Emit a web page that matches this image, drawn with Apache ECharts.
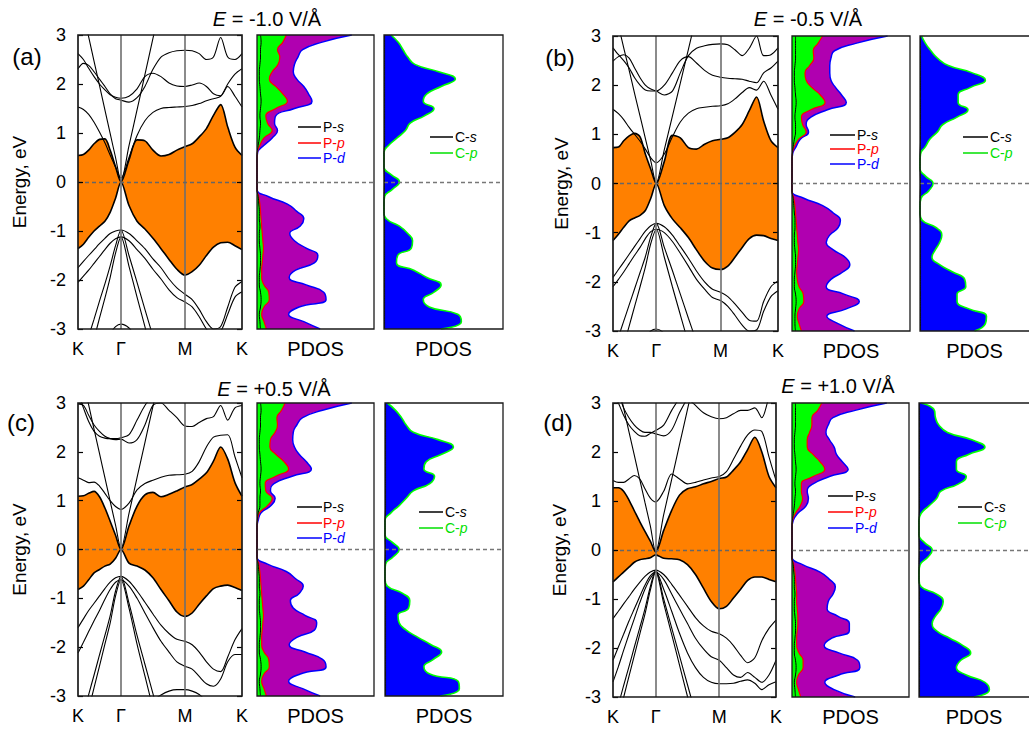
<!DOCTYPE html>
<html><head><meta charset="utf-8">
<script src="https://cdn.jsdelivr.net/npm/echarts@6/dist/echarts.min.js"></script>
<style>html,body{margin:0;padding:0;background:#fff}#c{width:1029px;height:734px}</style>
</head><body><div id="c"></div>
<script>
const FONT = '"Liberation Sans", Arial, Helvetica, sans-serif';
const _ = null;

// k-path: K - Γ - M - K (fraction of path)
const kPath = [0,0.033,0.065,0.098,0.131,0.164,0.196,0.229,0.262,0.311,0.36,0.408,0.457,0.506,0.555,0.603,0.652,0.696,0.739,0.783,0.826,0.87,0.913,0.957,1];
const kTicks = [0, 0.262, 0.652, 1];
const kLabels = ['K', 'Γ', 'M', 'K'];
const eTicks = [-3, 3, 1]; // min, max, step
// energy grid for PDOS (eV)
const eGrid = [-3,-2.85,-2.7,-2.55,-2.4,-2.25,-2.1,-1.95,-1.8,-1.65,-1.5,-1.35,-1.2,-1.05,-0.9,-0.75,-0.6,-0.45,-0.3,-0.15,0,0.15,0.3,0.45,0.6,0.75,0.9,1.05,1.2,1.35,1.5,1.65,1.8,1.95,2.1,2.25,2.4,2.55,2.7,2.85,3];

// ---------- (a) E = -1.0 V/Å ----------
const aCB = [0.54,0.56,0.65,0.78,0.87,0.88,0.65,0.31,0, 0.45,0.86,0.84,0.65,0.53,0.56,0.65,0.72, 0.78,0.92,1.09,1.36,1.58,1.12,0.71,0.54];
const aVB = [-1.36,-1.27,-1.13,-1.0,-0.9,-0.8,-0.62,-0.33,0, -0.48,-0.8,-0.96,-1.15,-1.36,-1.58,-1.78,-1.9, -1.83,-1.7,-1.5,-1.33,-1.24,-1.23,-1.3,-1.38];
const aCone = [3.93,3.43,2.96,2.46,1.97,1.47,0.99,0.5,0.02, 0.74,1.47,2.19,2.93,3.66,4.4,_,_, _,_,_,_,_,_,_,_];
const aU1 = [1.53,1.48,1.38,1.22,1.02,0.8,0.55,0.3,0.08, 0.5,0.95,1.25,1.42,1.5,1.52,1.53,1.54, 1.56,1.6,1.66,1.7,1.75,2.0,2.2,2.31];
const aU2 = [2.31,2.42,2.38,2.25,2.1,1.95,1.8,1.7,1.67, 1.63,1.72,1.95,2.3,2.55,2.64,2.68,2.69, 2.68,2.62,2.5,2.55,2.95,2.55,2.5,2.62];
const aU3 = [2.62,2.5,2.32,2.15,2.0,1.88,1.78,1.73,1.71, 1.75,1.9,2.15,2.22,2.15,2.02,1.96,1.95, 1.98,2.02,1.95,1.8,1.76,1.95,1.75,1.53];
const aV2 = [-1.75,-1.62,-1.5,-1.38,-1.26,-1.15,-1.05,-1.0,-0.98, -1.05,-1.2,-1.36,-1.57,-1.75,-1.98,-2.16,-2.29, -2.4,-2.6,-2.85,-3.0,-2.95,-2.55,-2.15,-2.03];
const aV3 = [-2.05,-1.92,-1.8,-1.66,-1.52,-1.38,-1.25,-1.16,-1.12, -1.2,-1.38,-1.56,-1.78,-1.98,-2.2,-2.36,-2.45, -2.55,-2.75,-3.0,-3.15,-3.05,-2.7,-2.35,-2.24];
const aS1 = [-3.86,-3.5,-3.15,-2.8,-2.43,-2.08,-1.71,-1.3,-0.98, -1.5,-2.05,-2.6,-3.15,-3.7,_,_,_, _,_,_,_,_,_,_,_];
const aS2 = [-4.4,-4.0,-3.6,-3.2,-2.78,-2.37,-1.95,-1.45,-1.12, -1.72,-2.35,-2.95,-3.6,_,_,_,_, _,_,_,_,_,_,_,_];
const aV4 = [_,_,_,_,_,_,-3.1,-2.95,-2.9, -2.98,-3.2,_,_,_,_,_,_, _,_,_,_,_,_,_,_];
const aPs = [0.3,0.25,0.2,0.3,0.35,0.3,0.2,0.2,0.25,0.3,0.3,0.25,0.2,0.2,0.25,0.2,0.2,0.15,0.1, 0,0,0,0,0, 0.02,0.1,0.2,0.25,0.3,0.25,0.3,0.35,0.3,0.25,0.2,0.2,0.25,0.3,0.3,0.35,0.3];
const aPp = [0.8,0.6,0.4,0.6,1.05,1.0,0.6,0.4,0.4,0.45,0.5,0.55,0.5,0.45,0.4,0.35,0.3,0.25,0.15, 0,0,0,0,0, 0.03,0.25,0.6,1.3,0.9,0.75,1.6,2.6,2.2,1.6,1.05,1.3,1.8,1.95,1.75,2.2,2.5];
const aPd = [5.4,4.0,2.7,3.6,5.9,5.7,4.2,2.75,3.3,4.9,5.2,4.2,3.2,2.8,3.7,4.0,3.4,2.6,1.0, 0,0,0,0,0, 0.05,0.6,1.3,1.75,1.5,1.6,3.2,4.7,4.4,4.0,3.4,3.1,3.2,3.5,3.9,5.5,8.1];
const aCs = [0.05,0.05,0.05,0.05,0.05,0.05,0.05,0.05,0.05,0.05,0.05,0.05,0.05,0.05,0.05,0.03,0,0,0,0.02,0.03,0.02,0,0,0,0.03,0.05,0.05,0.05,0.05,0.05,0.05,0.05,0.05,0.05,0.05,0.05,0.05,0.05,0.05,0.05];
const aCp = [4.8,6.5,6.2,3.8,3.3,4.2,4.8,3.6,2.5,1.05,1.15,2.3,2.4,2.0,1.3,0.2,0,0,0.05,0.7,1.3,0.6,0,0,0,0.4,1.1,1.8,2.2,3.4,4.2,3.3,3.6,4.8,6.0,4.6,2.6,2.0,1.6,1.2,0.6];

// ---------- (b) E = -0.5 V/Å ----------
const bCB = [0.73,0.74,0.87,0.97,1.02,0.95,0.6,0.29,0, 0.45,0.98,0.93,0.73,0.7,0.8,0.87,0.9, 0.93,1.04,1.2,1.48,1.76,1.27,0.87,0.73];
const bVB = [-1.16,-1.03,-0.89,-0.76,-0.7,-0.65,-0.55,-0.3,0, -0.45,-0.72,-0.9,-1.1,-1.35,-1.58,-1.72,-1.75, -1.68,-1.5,-1.3,-1.12,-1.05,-1.06,-1.12,-1.16];
const bCone = [3.67,3.21,2.76,2.3,1.83,1.37,0.92,0.46,0.01, 0.69,1.37,2.04,2.73,3.42,4.1,_,_, _,_,_,_,_,_,_,_];
const bU1 = [1.51,1.42,1.3,1.14,1.0,0.86,0.7,0.52,0.42, 0.6,0.95,1.25,1.43,1.52,1.55,1.57,1.58, 1.62,1.72,1.85,1.95,1.9,2.08,1.8,1.51];
const bU2 = [2.49,2.58,2.62,2.55,2.35,2.15,2.0,1.92,1.88, 1.8,1.88,2.25,2.6,2.75,2.8,2.83,2.84, 2.82,2.72,2.6,2.75,3.0,2.6,2.62,2.76];
const bU3 = [2.76,2.62,2.5,2.35,2.15,2.0,1.9,1.88,1.88, 2.0,2.25,2.5,2.58,2.45,2.3,2.2,2.16, 2.14,2.13,2.12,2.08,2.05,2.25,2.35,2.49];
const bV2 = [-1.91,-1.75,-1.6,-1.44,-1.28,-1.12,-0.97,-0.86,-0.81, -0.88,-1.05,-1.28,-1.52,-1.78,-2.0,-2.15,-2.21, -2.3,-2.45,-2.62,-2.78,-2.8,-2.4,-2.1,-1.98];
const bV3 = [-2.1,-1.95,-1.8,-1.63,-1.46,-1.3,-1.12,-0.98,-0.93, -1.0,-1.18,-1.42,-1.68,-1.95,-2.15,-2.32,-2.38, -2.5,-2.68,-2.88,-3.0,-2.98,-2.6,-2.3,-2.18];
const bS1 = [-3.45,-3.12,-2.8,-2.47,-2.14,-1.81,-1.49,-1.08,-0.81, -1.3,-1.77,-2.25,-2.74,-3.22,_,_,_, _,_,_,_,_,_,_,_];
const bS2 = [-4.1,-3.7,-3.3,-2.9,-2.5,-2.1,-1.7,-1.22,-0.93, -1.5,-2.1,-2.67,-3.25,_,_,_,_, _,_,_,_,_,_,_,_];
const bV4 = [_,_,_,_,_,_,-3.15,-3.0,-2.96, -3.05,-3.3,_,_,_,_,_,_, _,_,_,_,_,_,_,_];
const bPs = [0.3,0.25,0.25,0.3,0.35,0.3,0.2,0.2,0.25,0.3,0.3,0.25,0.2,0.2,0.25,0.25,0.2,0.15,0.1, 0,0,0,0,0, 0.03,0.1,0.2,0.3,0.3,0.25,0.3,0.35,0.3,0.25,0.2,0.2,0.25,0.3,0.3,0.3,0.3];
const bPp = [0.8,0.6,0.45,0.6,1.0,0.95,0.6,0.45,0.4,0.45,0.5,0.55,0.5,0.45,0.4,0.35,0.3,0.25,0.15, 0,0,0,0,0, 0.03,0.2,0.55,1.2,0.9,0.8,1.6,2.8,2.4,1.7,1.2,1.1,1.5,1.85,1.8,2.2,2.6];
const bPd = [5.3,3.9,2.95,4.6,5.7,4.4,2.9,3.3,4.3,4.9,4.5,3.5,2.9,3.2,3.9,4.1,3.5,2.6,1.0, 0,0,0,0,0, 0.05,0.35,0.7,1.4,1.2,1.6,3.0,4.6,4.2,3.7,3.3,3.2,3.2,3.3,3.6,5.4,8.1];
const bCs = [0.05,0.05,0.05,0.05,0.05,0.05,0.05,0.05,0.05,0.05,0.05,0.05,0.05,0.05,0.05,0.03,0,0,0,0.02,0.03,0.02,0,0,0,0.03,0.05,0.05,0.05,0.05,0.05,0.05,0.05,0.05,0.05,0.05,0.05,0.05,0.05,0.05,0.05];
const bCp = [5.0,6.0,6.1,4.5,3.4,3.4,4.2,4.1,3.0,1.8,1.1,1.4,1.8,2.0,1.5,0.2,0,0,0.1,0.8,1.2,0.5,0,0,0.05,0.5,0.9,1.6,2.1,3.4,4.4,3.5,3.5,4.6,6.0,4.8,2.6,1.6,1.0,0.5,0.15];

// ---------- (c) E = +0.5 V/Å ----------
const cCB = [1.09,1.1,1.15,1.19,1.08,0.85,0.58,0.29,0, 0.48,0.89,1.12,1.17,1.08,1.13,1.2,1.28, 1.33,1.44,1.57,1.81,2.1,1.85,1.37,1.09];
const cVB = [-0.82,-0.75,-0.62,-0.48,-0.41,-0.34,-0.3,-0.18,0, -0.28,-0.34,-0.42,-0.58,-0.82,-1.05,-1.28,-1.37, -1.3,-1.12,-0.95,-0.8,-0.75,-0.73,-0.78,-0.84];
const cCone = [3.93,3.44,2.96,2.46,1.97,1.47,0.99,0.5,0.02, 0.74,1.47,2.19,2.93,3.66,4.4,_,_, _,_,_,_,_,_,_,_];
const cU1 = [1.47,1.42,1.37,1.38,1.3,1.15,1.0,0.88,0.82, 0.95,1.22,1.35,1.42,1.48,1.52,1.53,1.54, 1.6,1.8,2.1,2.3,2.34,2.35,1.9,1.47];
const cU2 = [2.98,2.95,2.75,2.55,2.42,2.32,2.27,2.25,2.26, 2.18,2.25,2.55,2.95,3.0,2.85,2.7,2.53, 2.52,2.6,2.68,2.72,2.95,2.65,2.9,2.95];
const cU3 = [3.2,2.9,2.62,2.42,2.32,2.28,2.27,2.27,2.29, 2.35,2.65,2.95,3.15,_,_,_,_, _,_,_,_,_,_,_,_];
const cV2 = [-1.6,-1.42,-1.25,-1.1,-0.95,-0.8,-0.67,-0.58,-0.55, -0.65,-0.85,-1.08,-1.32,-1.55,-1.72,-1.84,-1.88, -1.95,-2.1,-2.3,-2.45,-2.5,-2.2,-1.85,-1.62];
const cV3 = [-2.12,-1.9,-1.68,-1.46,-1.25,-1.02,-0.82,-0.67,-0.62, -0.75,-1.0,-1.3,-1.6,-1.88,-2.1,-2.3,-2.39, -2.45,-2.6,-2.75,-2.8,-2.65,-2.3,-2.15,-2.15];
const cS1 = [-3.77,-3.37,-2.97,-2.57,-2.16,-1.76,-1.36,-0.85,-0.55, -1.1,-1.76,-2.35,-2.95,-3.55,_,_,_, _,_,_,_,_,_,_,_];
const cS2 = [-4.16,-3.71,-3.28,-2.83,-2.39,-1.94,-1.51,-0.95,-0.62, -1.2,-1.94,-2.59,-3.25,_,_,_,_, _,_,_,_,_,_,_,_];
const cV6 = [_,_,_,_,_,_,_,_,_, _,_,-3.3,-3.1,-2.98,-2.9,-2.87,-2.87, -2.9,-2.97,-3.1,-3.2,_,_,_,_];
const cPs = [0.3,0.25,0.2,0.3,0.35,0.3,0.2,0.2,0.25,0.3,0.3,0.25,0.2,0.2,0.25,0.2,0.2,0.15,0.1, 0,0,0,0,0, 0.03,0.1,0.25,0.25,0.3,0.25,0.3,0.35,0.3,0.25,0.2,0.2,0.25,0.3,0.3,0.35,0.3];
const cPp = [0.8,0.6,0.4,0.6,1.05,1.0,0.6,0.4,0.4,0.45,0.5,0.55,0.5,0.45,0.4,0.35,0.3,0.25,0.15, 0,0,0,0,0, 0.05,0.2,0.9,1.3,0.75,0.7,1.6,2.7,2.3,1.6,1.1,1.15,1.55,1.75,1.7,2.1,2.4];
const cPd = [5.4,3.9,2.7,3.7,5.9,5.6,4.1,2.75,3.4,4.9,5.1,4.1,3.1,2.85,3.6,3.95,3.3,2.5,0.9, 0,0,0,0,0, 0.1,0.35,1.2,1.55,1.15,1.45,3.0,4.65,4.2,3.6,3.2,3.05,3.1,3.4,3.9,5.6,8.1];
const cCs = [0.05,0.05,0.05,0.05,0.05,0.05,0.05,0.05,0.05,0.05,0.05,0.05,0.05,0.05,0.05,0.03,0,0,0,0.02,0.03,0.02,0,0,0,0.03,0.05,0.05,0.05,0.05,0.05,0.05,0.05,0.05,0.05,0.05,0.05,0.05,0.05,0.05,0.05];
const cCp = [4.7,6.3,6.2,3.8,3.3,4.1,4.8,3.9,2.8,1.8,1.2,1.1,2.0,2.1,1.5,0.2,0,0,0.05,0.7,1.2,0.6,0,0,0,0.5,1.2,1.8,2.4,3.8,4.2,3.3,3.5,4.8,5.8,4.5,2.4,1.8,1.4,0.9,0.2];

// ---------- (d) E = +1.0 V/Å ----------
const dCB = [1.27,1.27,1.2,1.02,0.8,0.58,0.38,0.18,-0.04, 0.4,0.81,1.12,1.25,1.29,1.35,1.4,1.46, 1.49,1.63,1.8,2.05,2.3,2.0,1.5,1.27];
const dVB = [-0.65,-0.55,-0.45,-0.35,-0.25,-0.2,-0.18,-0.16,-0.1, -0.17,-0.18,-0.2,-0.3,-0.5,-0.78,-1.05,-1.2, -1.15,-0.98,-0.8,-0.62,-0.55,-0.55,-0.6,-0.65];
const dCone = [3.85,3.37,2.9,2.41,1.93,1.44,0.97,0.49,-0.04, 0.72,1.44,2.15,2.87,3.59,4.3,_,_, _,_,_,_,_,_,_,_];
const dU1 = [1.42,1.38,1.38,1.45,1.52,1.45,1.25,1.06,0.98, 1.2,1.55,1.45,1.35,1.38,1.43,1.47,1.5, 1.6,1.85,2.12,2.35,2.45,2.42,1.9,1.42];
const dU2 = [3.2,3.0,2.75,2.55,2.42,2.33,2.32,2.38,2.44, 2.55,2.85,3.1,_,_,_,_,_, _,_,_,_,_,_,_,_];
const dU3 = [3.5,3.2,2.9,2.7,2.55,2.45,2.4,2.4,2.37, 2.33,2.45,2.8,3.1,_,_,_,_, _,_,_,_,_,_,_,_];
const dU4 = [_,_,_,_,_,_,_,_,_, _,_,3.3,3.1,2.95,2.8,2.72,2.68, 2.7,2.78,2.85,2.85,2.9,2.7,3.1,3.3];
const dV2 = [-1.4,-1.25,-1.1,-0.95,-0.8,-0.66,-0.54,-0.45,-0.41, -0.5,-0.7,-0.92,-1.15,-1.38,-1.55,-1.66,-1.71, -1.8,-1.95,-2.15,-2.3,-2.2,-1.85,-1.6,-1.43];
const dV3 = [-2.25,-1.98,-1.72,-1.45,-1.2,-0.95,-0.72,-0.53,-0.45, -0.6,-0.9,-1.2,-1.5,-1.8,-2.02,-2.18,-2.25, -2.4,-2.55,-2.6,-2.5,-2.6,-2.7,-2.55,-2.25];
const dV5 = [-2.69,-2.38,-2.05,-1.72,-1.4,-1.08,-0.8,-0.58,-0.45, -0.8,-1.25,-1.7,-2.1,-2.4,-2.6,-2.7,-2.73, -2.73,-2.72,-2.68,-2.65,-2.72,-2.85,-2.75,-2.69];
const dS1 = [-3.55,-3.16,-2.77,-2.38,-1.98,-1.59,-1.2,-0.75,-0.41, -1.0,-1.59,-2.16,-2.75,-3.34,_,_,_, _,_,_,_,_,_,_,_];
const dS2 = [-3.86,-3.43,-3.01,-2.58,-2.15,-1.72,-1.31,-0.82,-0.45, -1.09,-1.72,-2.35,-2.99,-3.62,_,_,_, _,_,_,_,_,_,_,_];
const dPs = [0.3,0.25,0.2,0.3,0.35,0.3,0.2,0.2,0.25,0.3,0.3,0.25,0.2,0.2,0.25,0.2,0.2,0.15,0.1, 0,0,0,0,0, 0.03,0.12,0.2,0.25,0.3,0.25,0.3,0.35,0.3,0.25,0.2,0.2,0.25,0.3,0.3,0.3,0.3];
const dPp = [0.75,0.55,0.4,0.55,0.95,0.95,0.6,0.4,0.4,0.45,0.5,0.5,0.45,0.4,0.4,0.35,0.3,0.25,0.15, 0,0,0,0,0, 0.05,0.3,0.7,0.9,0.8,0.8,1.8,2.8,2.4,1.8,1.3,1.3,1.5,1.7,1.7,2.2,2.55];
const dPd = [5.4,3.6,2.8,4.0,5.8,5.6,4.0,2.75,3.4,4.9,4.9,3.9,3.0,3.1,3.5,3.7,3.2,2.4,0.9, 0,0,0,0,0, 0.1,0.5,1.2,1.4,1.3,1.8,3.2,4.8,4.3,3.8,3.6,3.2,2.9,3.1,3.5,5.4,8.1];
const dCs = [0.05,0.05,0.05,0.05,0.05,0.05,0.05,0.05,0.05,0.05,0.05,0.05,0.05,0.05,0.05,0.03,0,0,0,0.02,0.03,0.02,0,0,0,0.03,0.05,0.05,0.05,0.05,0.05,0.05,0.05,0.05,0.05,0.05,0.05,0.05,0.05,0.05,0.05];
const dCp = [5.0,6.4,6.0,4.3,3.4,3.8,4.7,4.0,2.8,1.6,1.2,1.5,2.0,2.2,1.6,0.2,0,0,0.1,0.8,1.2,0.5,0,0,0,0.2,0.9,1.6,2.0,3.6,4.3,3.4,3.4,4.5,6.0,4.8,2.6,1.8,1.5,1.4,0.2];

const fieldLabels = ['-1.0', '-0.5', '+0.5', '+1.0'];
const panelTags = ['(a)', '(b)', '(c)', '(d)'];
const legendP = [['P-', 's', '#000000'], ['P-', 'p', '#FF0000'], ['P-', 'd', '#0000FF']];
const legendC = [['C-', 's', '#000000'], ['C-', 'p', '#00E000']];

const panels = [
  {cb:aCB, vb:aVB, bands:[aCone,aU1,aU2,aU3,aV2,aV3,aS1,aS2,aV4], ps:aPs, pp:aPp, pd:aPd, cs:aCs, cp:aCp},
  {cb:bCB, vb:bVB, bands:[bCone,bU1,bU2,bU3,bV2,bV3,bS1,bS2,bV4], ps:bPs, pp:bPp, pd:bPd, cs:bCs, cp:bCp},
  {cb:cCB, vb:cVB, bands:[cCone,cU1,cU2,cU3,cV2,cV3,cS1,cS2,cV6], ps:cPs, pp:cPp, pd:cPd, cs:cCs, cp:cCp},
  {cb:dCB, vb:dVB, bands:[dCone,dU1,dU2,dU3,dU4,dV2,dV3,dV5,dS1,dS2], ps:dPs, pp:dPp, pd:dPd, cs:dCs, cp:dCp}
];

// layout (pixels)
const layouts = [
  {band:[78,35,164,294], p:[257,35,117,294], c:[384,35,119,294], title:[267,19], tag:[27,56], nameGap:49,
   pLeg:{x1:298,x2:321,tx:323,ys:[127,143,158]}, cLeg:{x1:430,x2:453,tx:455,ys:[137,153]}},
  {band:[613,36,165,295], p:[792,36,118,295], c:[920,36,118,295], title:[808,19], tag:[560,57], nameGap:42,
   pLeg:{x1:830,x2:855,tx:857,ys:[135,149,164]}, cLeg:{x1:963,x2:988,tx:990,ys:[137,153]}},
  {band:[78,403,164,293], p:[257,403,117,293], c:[385,403,118,293], title:[274,389], tag:[21,422], nameGap:49,
   pLeg:{x1:297,x2:322,tx:323,ys:[507,523,538]}, cLeg:{x1:419,x2:443,tx:445,ys:[512,528]}},
  {band:[613,403,163,294], p:[792,403,117,294], c:[919,403,118,294], title:[838,386], tag:[558,422], nameGap:44,
   pLeg:{x1:828,x2:853,tx:855,ys:[496,512,528]}, cLeg:{x1:958,x2:982,tx:984,ys:[507,523]}}
];

const grid = [], xAxis = [], yAxis = [], series = [], elements = [];
const zeroIdx = eGrid.indexOf(0);
const eCats = eGrid.map(String);
const pts = arr => kPath.map((k, j) => [k, arr[j]]);
const hpts = arr => arr.map((v, j) => [v, j]);
const base = {type:'line', symbol:'none', showSymbol:false, silent:true, animation:false, emphasis:{disabled:true}};
const nearestTick = v => { let b = 0; kTicks.forEach((t, i) => { if (Math.abs(t - v) < Math.abs(kTicks[b] - v)) b = i; }); return b; };
const hiddenAxis = {axisLine:{show:false}, axisTick:{show:false}, axisLabel:{show:false}, splitLine:{show:false}};
const PSM = 0.5; // PDOS smoothing

panels.forEach((P, i) => {
  const L = layouts[i];
  const g = grid.length, xi = xAxis.length, yi = yAxis.length;
  [L.band, L.p, L.c].forEach(r => grid.push({left:r[0], top:r[1], width:r[2], height:r[3], show:false}));

  xAxis.push({gridIndex:g, type:'value', min:0, max:1, z:6, axisLine:{show:false}, axisTick:{show:false}, splitLine:{show:false},
    axisLabel:{customValues:kTicks, formatter:v => kLabels[nearestTick(v)], fontSize:18, color:'#000', margin:11, fontFamily:FONT}});
  xAxis.push(Object.assign({gridIndex:g+1, type:'value', min:0, max:10, name:'PDOS', nameLocation:'middle', nameGap:10,
    nameTextStyle:{fontSize:20, color:'#000', fontFamily:FONT}}, hiddenAxis));
  xAxis.push(Object.assign({gridIndex:g+2, type:'value', min:0, max:10, name:'PDOS', nameLocation:'middle', nameGap:10,
    nameTextStyle:{fontSize:20, color:'#000', fontFamily:FONT}}, hiddenAxis));

  yAxis.push({gridIndex:g, type:'value', min:eTicks[0], max:eTicks[1], interval:eTicks[2], position:'left', z:6,
    axisLine:{show:false}, splitLine:{show:false},
    axisTick:{show:true, inside:true, length:5, lineStyle:{color:'#000', width:1.2}},
    axisLabel:{fontSize:18, color:'#000', margin:12, fontFamily:FONT},
    name:'Energy, eV', nameLocation:'middle', nameGap:L.nameGap, nameTextStyle:{fontSize:19, color:'#000', fontFamily:FONT}});
  yAxis.push({gridIndex:g, type:'value', min:eTicks[0], max:eTicks[1], interval:eTicks[2], position:'right', z:6,
    axisLine:{show:false}, splitLine:{show:false}, axisLabel:{show:false},
    axisTick:{show:true, inside:true, length:5, lineStyle:{color:'#000', width:1.2}}});
  yAxis.push(Object.assign({gridIndex:g+1, type:'category', data:eCats, boundaryGap:false}, hiddenAxis));
  yAxis.push(Object.assign({gridIndex:g+2, type:'category', data:eCats, boundaryGap:false}, hiddenAxis));

  const bx = xi, by = yi;
  // orange region between the two bands bounding the gap (fill under CB, blank under VB)
  series.push(Object.assign({}, base, {xAxisIndex:bx, yAxisIndex:by, data:pts(P.cb), smooth:0.3, z:1,
    lineStyle:{color:'#000', width:1.6}, areaStyle:{color:'#FF8000', opacity:1, origin:'start'}}));
  series.push(Object.assign({}, base, {xAxisIndex:bx, yAxisIndex:by, data:pts(P.vb), smooth:0.3, z:2,
    lineStyle:{color:'#000', width:1.6}, areaStyle:{color:'#FFFFFF', opacity:1, origin:'start'}}));
  P.bands.forEach(b => series.push(Object.assign({}, base, {xAxisIndex:bx, yAxisIndex:by, data:pts(b), smooth:0.3, z:3,
    lineStyle:{color:'#000', width:1.1}})));
  series.push(Object.assign({}, base, {xAxisIndex:bx, yAxisIndex:by, data:[], z:4,
    markLine:{silent:true, symbol:['none','none'], label:{show:false}, animation:false, emphasis:{disabled:true},
      data:[{xAxis:kTicks[1], lineStyle:{color:'#6e6e6e', width:1.6, type:'solid'}},
            {xAxis:kTicks[2], lineStyle:{color:'#6e6e6e', width:1.6, type:'solid'}},
            {yAxis:0, lineStyle:{color:'#666', width:1.4, type:[4,3]}}]}}));

  // P PDOS
  series.push(Object.assign({}, base, {name:'P-d', xAxisIndex:xi+1, yAxisIndex:yi+2, data:hpts(P.pd), smooth:PSM, z:2,
    lineStyle:{color:'#0000FF', width:1.5}, areaStyle:{color:'#B000B0', opacity:1}}));
  series.push(Object.assign({}, base, {name:'P-p', xAxisIndex:xi+1, yAxisIndex:yi+2, data:hpts(P.pp), smooth:PSM, z:3,
    lineStyle:{color:'#FF0000', width:1.2}, areaStyle:{color:'#00FF00', opacity:1}}));
  series.push(Object.assign({}, base, {name:'P-s', xAxisIndex:xi+1, yAxisIndex:yi+2, data:hpts(P.ps), smooth:PSM, z:4,
    lineStyle:{color:'#000', width:1}}));
  series.push(Object.assign({}, base, {xAxisIndex:xi+1, yAxisIndex:yi+2, data:[], z:5,
    markLine:{silent:true, symbol:['none','none'], label:{show:false}, animation:false,
      data:[{yAxis:zeroIdx, lineStyle:{color:'#777', width:1.3, type:[4,3]}}]}}));
  // C PDOS
  series.push(Object.assign({}, base, {name:'C-p', xAxisIndex:xi+2, yAxisIndex:yi+3, data:hpts(P.cp), smooth:PSM, z:2,
    lineStyle:{color:'#00FF00', width:1.6}, areaStyle:{color:'#0000FF', opacity:1}}));
  series.push(Object.assign({}, base, {name:'C-s', xAxisIndex:xi+2, yAxisIndex:yi+3, data:hpts(P.cs), smooth:PSM, z:3,
    lineStyle:{color:'#000', width:1}}));
  series.push(Object.assign({}, base, {xAxisIndex:xi+2, yAxisIndex:yi+3, data:[], z:5,
    markLine:{silent:true, symbol:['none','none'], label:{show:false}, animation:false,
      data:[{yAxis:zeroIdx, lineStyle:{color:'#777', width:1.3, type:[4,3]}}]}}));

  // frames
  [[L.band,1.7],[L.p,1.3],[L.c,1.3]].forEach(([r,w]) => elements.push({type:'rect', z:100, silent:true,
    shape:{x:r[0], y:r[1], width:r[2], height:r[3]}, style:{fill:'none', stroke:'#1a1a1a', lineWidth:w}}));

  // title & tag
  elements.push({type:'text', z:100, silent:true, x:L.title[0], y:L.title[1],
    style:{text:'{i|E}{n| = ' + fieldLabels[i] + ' V/Å}', align:'center', verticalAlign:'middle',
      rich:{i:{fontStyle:'italic', fontSize:20, fontFamily:FONT, fill:'#000'}, n:{fontSize:20, fontFamily:FONT, fill:'#000'}}}});
  elements.push({type:'text', z:100, silent:true, x:L.tag[0], y:L.tag[1],
    style:{text:panelTags[i], fontSize:24, fontFamily:FONT, fill:'#000', align:'center', verticalAlign:'middle'}});

  // legends
  const addLeg = (leg, items) => items.forEach((it, k) => {
    const y = leg.ys[k];
    elements.push({type:'line', z:100, silent:true, shape:{x1:leg.x1, y1:y, x2:leg.x2, y2:y}, style:{stroke:it[2], lineWidth:1.5}});
    elements.push({type:'text', z:100, silent:true, x:leg.tx, y:y,
      style:{text:'{n|' + it[0] + '}{i|' + it[1] + '}', align:'left', verticalAlign:'middle',
        rich:{n:{fontSize:14, lineHeight:13, fontFamily:FONT, fill:it[2]}, i:{fontSize:14, lineHeight:13, fontFamily:FONT, fill:it[2], fontStyle:'italic'}}}});
  });
  addLeg(L.pLeg, legendP);
  addLeg(L.cLeg, legendC);
});

const chart = echarts.init(document.getElementById('c'), null, {renderer:'svg', width:1029, height:734});
chart.setOption({animation:false, backgroundColor:'#fff', textStyle:{fontFamily:FONT},
  grid, xAxis, yAxis, series, graphic:{elements}});
</script></body></html>
